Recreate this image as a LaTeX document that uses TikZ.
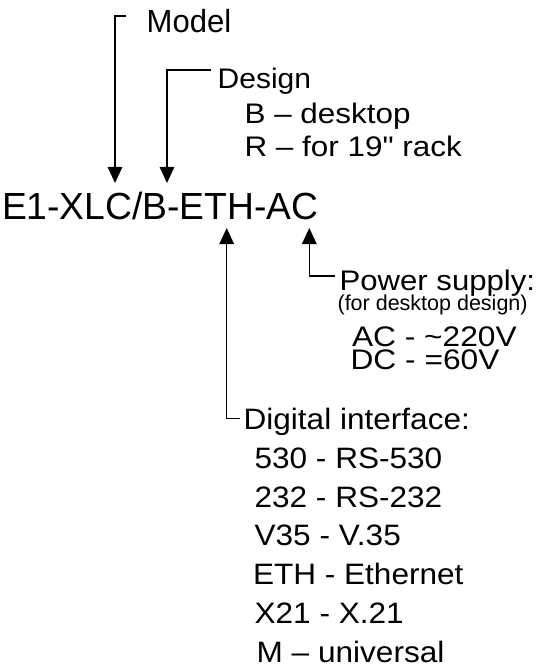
\documentclass[tikz,border=0pt]{standalone}
\usepackage{fontspec}
\setmainfont{Liberation Sans}[Ligatures=TeXOff]
\usetikzlibrary{arrows.meta}
\newcommand{\hsx}[2]{\scalebox{#1}[1]{#2}}
\tikzset{
  lbl/.style={anchor=base west, inner sep=0pt, outer sep=0pt},
  titlefont/.style={lbl, font=\fontsize{37.8}{37.8}\selectfont},
  modelfont/.style={lbl, font=\fontsize{32}{32}\selectfont},
  midfont/.style={lbl, font=\fontsize{28.3}{28.3}\selectfont},
  smallfont/.style={lbl, font=\fontsize{21.5}{21.5}\selectfont},
  listfont/.style={lbl, font=\fontsize{29.5}{29.5}\selectfont},
  conn/.style={line width=1.3pt, line join=miter},
  arr/.style={conn, -{Triangle[length=16pt,width=14.5pt]}},
}
\begin{document}
\begin{tikzpicture}[x=1pt,y=-1pt]
\useasboundingbox (0,0) rectangle (547,668);

% labels
\node[modelfont] (model) at (146.7,32.5) {\hsx{0.97}{Model}};
\node[midfont] (design) at (217.7,88.5) {\hsx{1.06}{Design}};
\node[midfont] (desB) at (244.6,124) {\hsx{1.11}{B – desktop}};
\node[midfont] (desR) at (244.6,157) {\hsx{1.11}{R – for 19" rack}};
\node[titlefont] (code) at (2,219) {\hsx{0.985}{E1-XLC/B-ETH-AC}};
\node[midfont] (power) at (339.6,290) {\hsx{1.10}{Power supply:}};
\node[smallfont] (pnote) at (337.6,310.5) {(for desktop design)};
\node[midfont] (pac) at (352,346) {\hsx{1.12}{AC - \textasciitilde 220V}};
\node[midfont] (pdc) at (350.6,369) {\hsx{1.12}{DC - =60V}};
\node[listfont] (digital) at (243.6,429) {\hsx{1.07}{Digital interface:}};
\node[listfont] (d530) at (254.6,468) {\hsx{1.07}{530 - RS-530}};
\node[listfont] (d232) at (254.6,507) {\hsx{1.07}{232 - RS-232}};
\node[listfont] (dv35) at (254.6,545.5) {\hsx{1.07}{V35 - V.35}};
\node[listfont] (deth) at (253,584) {\hsx{1.07}{ETH - Ethernet}};
\node[listfont] (dx21) at (254.6,623) {\hsx{1.07}{X21 - X.21}};
\node[listfont] (dm) at (256.7,662) {\hsx{1.07}{M – universal}};

% connector points
\coordinate (mstart) at (126,16);
\coordinate (mbend) at (115,16);
\coordinate (mtip) at (115,183);
\coordinate (dstart) at (211,70);
\coordinate (dbend) at (167,70);
\coordinate (dtip) at (167,183);
\coordinate (estart) at (240,418.3);
\coordinate (ebend) at (226.7,418.3);
\coordinate (etip) at (226.7,228);
\coordinate (astart) at (335,276);
\coordinate (abend) at (309.3,276);
\coordinate (atip) at (309.3,228);

\draw[arr] (mstart) -- (mbend) -- (mtip);
\draw[arr] (dstart) -- (dbend) -- (dtip);
\draw[arr] (estart) -- (ebend) -- (etip);
\draw[arr] (astart) -- (abend) -- (atip);
\end{tikzpicture}
\end{document}
